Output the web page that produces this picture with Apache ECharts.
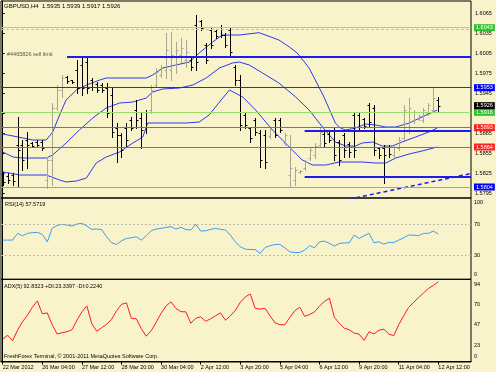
<!DOCTYPE html>
<html><head><meta charset="utf-8">
<script src="https://cdn.jsdelivr.net/npm/echarts@6/dist/echarts.min.js"></script>
<style>html,body{margin:0;padding:0;background:#f9f3cc;}#c{width:496px;height:372px;}</style>
</head><body><div id="c"></div>
<script>
// ---------- data ----------
const symbolName = 'GBPUSD,H4';
const xTickBars = [0, 8, 16, 24, 32, 40, 48, 56, 64, 72, 80, 88];
const xTickLabels = ['22 Mar 2012', '26 Mar 04:00', '27 Mar 12:00', '28 Mar 20:00', '30 Mar 04:00', '2 Apr 12:00', '3 Apr 20:00', '5 Apr 04:00', '6 Apr 12:00', '9 Apr 20:00', '11 Apr 04:00', '12 Apr 12:00'];
const priceTicks = [1.5795, 1.5825, 1.5855, 1.5885, 1.5915, 1.5945, 1.5975, 1.6005, 1.6035, 1.6065];
const rsiTicks = [0, 30, 70, 100];
const rsiLevels = [30, 70];
const adxTicks = [0, 23, 47, 70, 94];

const open = [1.58235,1.58205,1.58220,1.58670,1.58670,1.58745,1.58700,1.58715,1.58715,1.58145,
1.58445,1.59225,1.59495,1.59690,1.59645,1.59795,1.59870,1.59915,1.59645,1.59585,
1.59570,1.59525,1.59420,1.58925,1.58820,1.58925,1.59045,1.59195,1.59075,1.59165,
1.59195,1.59570,1.59720,1.59795,1.59795,1.59870,1.60020,1.59945,1.59945,1.60470,
1.60530,1.60170,1.60395,1.60380,1.60440,1.60320,1.60395,1.59840,1.59645,1.59120,
1.58925,1.59045,1.58850,1.58820,1.58805,1.59045,1.59045,1.58700,1.58220,1.58145,
1.58265,1.58325,1.58475,1.58520,1.58670,1.58835,1.58835,1.58880,1.58715,1.58820,
1.58685,1.59120,1.59120,1.59060,1.59270,1.59225,1.58625,1.58625,1.58640,1.58520,
1.58625,1.58775,1.58895,1.59030,1.59060,1.59045,1.59150,1.59195,1.59350];
const high = [1.58265,1.58250,1.58250,1.59090,1.58745,1.58865,1.58715,1.58745,1.58745,1.58490,
1.59300,1.59570,1.59720,1.59705,1.59645,1.59945,1.59990,1.59990,1.59675,1.59615,
1.59600,1.59600,1.59525,1.59000,1.58850,1.59000,1.59090,1.59345,1.59150,1.59195,
1.59570,1.59825,1.59870,1.60350,1.60365,1.60215,1.60275,1.60245,1.59990,1.60620,
1.60545,1.60200,1.60425,1.60395,1.60470,1.60350,1.60425,1.59870,1.59720,1.59150,
1.58940,1.59075,1.58895,1.58895,1.58940,1.59075,1.59075,1.58850,1.58820,1.58340,
1.58295,1.58445,1.58625,1.58700,1.58925,1.58865,1.58865,1.58925,1.58745,1.58850,
1.58715,1.59150,1.59150,1.59075,1.59300,1.59270,1.58640,1.58670,1.58670,1.58670,
1.58790,1.59270,1.59375,1.59195,1.59120,1.59225,1.59300,1.59540,1.59390];
const low = [1.58070,1.58100,1.58070,1.58040,1.58295,1.58325,1.58640,1.58640,1.58595,1.58025,
1.58070,1.59195,1.59390,1.59600,1.59600,1.59450,1.59420,1.59450,1.59495,1.59465,
1.59465,1.59090,1.58790,1.58415,1.58490,1.58640,1.58895,1.58925,1.58625,1.58850,
1.59150,1.59540,1.59690,1.59675,1.59645,1.59750,1.59915,1.59840,1.59795,1.59795,
1.60395,1.59900,1.60125,1.60275,1.60290,1.60140,1.60020,1.59570,1.58895,1.58925,
1.58715,1.58820,1.58340,1.58325,1.58775,1.58790,1.58865,1.58670,1.58040,1.58070,
1.58250,1.58295,1.58445,1.58475,1.58640,1.58640,1.58715,1.58445,1.58370,1.58490,
1.58490,1.58490,1.58895,1.58925,1.58940,1.58520,1.58475,1.58100,1.58490,1.58490,
1.58595,1.58745,1.58850,1.59000,1.59045,1.59015,1.59120,1.59165,1.59170];
const close = [1.58115,1.58145,1.58130,1.58595,1.58445,1.58670,1.58655,1.58670,1.58625,1.58445,
1.59225,1.59495,1.59675,1.59630,1.59615,1.59525,1.59525,1.59525,1.59540,1.59495,
1.59495,1.59150,1.58865,1.58820,1.58595,1.58745,1.58925,1.59045,1.58895,1.58940,
1.59495,1.59765,1.59825,1.60095,1.60020,1.60095,1.60125,1.60065,1.59840,1.59915,
1.60425,1.59945,1.60170,1.60305,1.60320,1.60170,1.60065,1.59645,1.58970,1.58970,
1.58775,1.58865,1.58445,1.58415,1.58910,1.58820,1.58895,1.58820,1.58325,1.58295,
1.58280,1.58415,1.58595,1.58655,1.58865,1.58700,1.58745,1.58520,1.58445,1.58595,
1.58565,1.58595,1.58940,1.58955,1.59015,1.58595,1.58520,1.58520,1.58535,1.58640,
1.58745,1.59195,1.59225,1.59165,1.59105,1.59195,1.59270,1.59375,1.59260];

// Bollinger bands, read at [bar index, price]
const bbUpper = [[0,1.58835],[2.1,1.58805],[6.1,1.58745],[8.8,1.58745],[10.1,1.58865],[11.5,1.59120],[12.8,1.59345],[14.9,1.59495],[16.9,1.59570],[19.6,1.59645],[20.9,1.59675],[29,1.59675],[30.3,1.59720],[32.3,1.59825],[35,1.59870],[37.7,1.59915],[39.7,1.60050],[42.4,1.60215],[44.4,1.60320],[47.8,1.60320],[51.8,1.60355],[55.8,1.60245],[57.9,1.60140],[59.5,1.60050],[61.9,1.59825],[64.9,1.59390],[67.2,1.59000],[68.2,1.58925],[69.3,1.58895],[71.3,1.58925],[73.3,1.58985],[75.3,1.58970],[77.4,1.58940],[79.4,1.58940],[82.1,1.59000],[84.7,1.59090],[87.8,1.59195]];
const bbMiddle = [[0,1.58565],[2.1,1.58490],[4.1,1.58475],[8.8,1.58475],[10.1,1.58520],[12.8,1.58700],[15.5,1.58895],[18.2,1.59075],[20.9,1.59225],[23.6,1.59300],[26.3,1.59315],[29,1.59375],[30.3,1.59465],[32.3,1.59510],[35.7,1.59525],[38.4,1.59570],[41.1,1.59675],[43.8,1.59825],[46.4,1.59900],[47.8,1.59915],[49.8,1.59870],[52.5,1.59750],[55.8,1.59600],[59.2,1.59390],[61.9,1.59195],[64.6,1.58940],[67.2,1.58715],[69.3,1.58655],[71.3,1.58655],[72.6,1.58700],[74.7,1.58715],[76.7,1.58655],[78.7,1.58655],[80.7,1.58715],[83.4,1.58790],[86.1,1.58865],[87.8,1.58925]];
const bbLower = [[0,1.58265],[1.4,1.58250],[3.4,1.58220],[8.8,1.58220],[11.5,1.58145],[12.8,1.58115],[14.9,1.58130],[16.9,1.58175],[18.9,1.58400],[20.9,1.58490],[23.6,1.58565],[26.3,1.58700],[28.3,1.58790],[29.3,1.59000],[37,1.59000],[39.7,1.59015],[41.7,1.59120],[43.8,1.59315],[45.8,1.59495],[48.5,1.59390],[51.1,1.59195],[54.5,1.58895],[57.9,1.58640],[60.5,1.58445],[62.6,1.58370],[65.3,1.58370],[67.9,1.58415],[72.6,1.58415],[75.3,1.58400],[77.4,1.58400],[79.4,1.58475],[82.1,1.58535],[84.7,1.58580],[87.8,1.58640]];

const rsi = [49.7,49.7,49.7,58.3,55.3,58.3,59.2,59.6,57.0,47.5,
64.7,68.6,69.9,69.0,67.7,70.3,71.2,67.7,63.4,63.9,
63.0,54.0,46.2,44.1,48.8,51.8,52.7,54.0,49.7,55.3,
61.7,63.9,64.7,66.0,66.9,63.9,66.0,63.4,62.6,69.9,
61.3,61.7,63.4,64.7,63.4,62.6,56.1,47.5,41.1,38.1,
37.6,37.6,32.5,40.2,42.4,44.1,44.1,39.8,34.6,33.8,
33.8,36.8,42.4,39.8,47.5,48.4,45.4,41.9,45.4,46.2,
46.2,56.1,51.8,55.3,58.3,46.2,47.5,44.5,46.7,46.7,
49.7,52.7,56.1,56.1,55.3,58.3,58.3,61.3,57.6];
const adx = [26.0,30.6,24.3,36.4,46.2,53.8,63.2,70.5,55.5,56.6,
42.8,32.0,33.5,34.7,37.0,48.0,57.8,64.7,43.9,35.3,
39.3,43.4,49.1,59.0,66.5,68.2,50.1,49.7,38.1,29.5,
35.8,45.7,56.1,64.7,69.4,61.8,58.0,57.8,44.5,50.3,
52.0,46.8,49.7,53.2,56.6,48.0,53.2,59.5,68.8,75.1,
78.6,61.8,61.0,61.8,53.2,45.1,42.8,42.8,51.4,59.0,
63.2,52.6,54.6,57.8,64.4,69.9,73.6,51.4,44.5,38.8,
37.0,33.1,31.9,24.6,34.7,32.1,36.4,37.7,31.8,30.1,
42.8,53.2,62.9,68.7,74.3,79.8,84.9,88.5,92.8];
const rsiText = 'RSI(14) 57.5719';
const adxText = 'ADX(5) 92.8323 +DI:23.3397 -DI:0.2240';
const copyrightText = 'FreshForex Terminal, \u00A9 2001-2011 MetaQuotes Software Corp.';

// horizontal price levels
const greenLevels = [1.6043, 1.5916];
const redLevels = [1.5893, 1.5864];
const blueLevels = [1.5953];
const purpleLevels = [1.5804];
const greyDashLevels = [1.6040];
const bidPrice = 1.5926;
const sellLimit = { text: '#4465826 sell limit', price: 1.6000, fromBar: 13 };
const supportSegments = [{ price: 1.5889, fromBar: 61 }, { price: 1.5820, fromBar: 61 }];
const trendLine = [[70, 1.57857], [94.6, 1.58242]];

// ---------- layout / style ----------
const FONT = 'Liberation Sans';
const BG = '#f9f3cc';
const X_MIN = -0.34, X_MAX = 94.6;
const UP = '#a9a692', DOWN = '#000000';
const BAND = '#2a3af0';
const FS = 5.5;

const chart = echarts.init(document.getElementById('c'), null, { renderer: 'canvas', width: 496, height: 372 });

const gridBase = { left: 1, width: 470, show: true, borderColor: '#000', borderWidth: 1, backgroundColor: 'transparent', containLabel: false, outerBoundsMode: 'none' };
const grids = [
  Object.assign({ top: 1, height: 197 }, gridBase),
  Object.assign({ top: 198, height: 81.3 }, gridBase),
  Object.assign({ top: 279.3, height: 82.7 }, gridBase)
];

function xAxisFor(g) {
  return {
    type: 'value', gridIndex: g, min: X_MIN, max: X_MAX, show: g === 2,
    axisLine: { show: true, lineStyle: { color: '#000', width: 1 } },
    axisTick: { show: true, customValues: xTickBars, length: 3, lineStyle: { color: '#000' } },
    axisLabel: { show: true, customValues: xTickBars, margin: 2, align: 'left', fontSize: FS, color: '#000', fontFamily: FONT,
      formatter: (v) => xTickLabels[xTickBars.indexOf(Math.round(v))] || '' },
    splitLine: { show: false }
  };
}

function boxLabel(text, bg) {
  return { show: true, position: 'end', distance: 3, formatter: text, color: '#fff', backgroundColor: bg,
    padding: [1, 2, 0, 2], fontSize: FS, fontFamily: FONT };
}
function levelLine(v, color, width, type, box) {
  return { yAxis: v, lineStyle: { color: color, width: width, type: type || 'solid', opacity: 1 },
    label: box ? boxLabel(v.toFixed(4), box) : { show: false } };
}

const markData = [];
greyDashLevels.forEach(v => markData.push(levelLine(v, '#c4c0b0', 1, [3, 2], null)));
purpleLevels.forEach(v => markData.push(levelLine(v, '#9c9ad8', 1, 'solid', '#0000ff')));
blueLevels.forEach(v => markData.push(levelLine(v, '#1f2fe8', 1, 'solid', '#0000ff')));
greenLevels.forEach(v => markData.push(levelLine(v, '#98dc6c', 1, 'solid', '#2fc42f')));
redLevels.forEach(v => markData.push(levelLine(v, '#ff3b3b', 1, 'solid', '#ff2020')));
markData.push({ yAxis: bidPrice, lineStyle: { color: 'rgba(0,0,0,0)', width: 0 }, label: boxLabel(bidPrice.toFixed(4), '#000') });
markData.push([{ coord: [sellLimit.fromBar, sellLimit.price], lineStyle: { color: '#1c1ce6', width: 2, type: 'solid' }, label: { show: false } },
               { coord: [X_MAX, sellLimit.price] }]);
supportSegments.forEach(s => markData.push([{ coord: [s.fromBar, s.price], lineStyle: { color: '#1c1ce6', width: 2, type: 'solid' }, label: { show: false } },
                                            { coord: [X_MAX, s.price] }]));

const ohlcData = open.map((o, i) => [i, o, high[i], low[i], close[i]]);

const titleStyle = (size, color) => ({ fontSize: size, fontWeight: 'normal', color: color || '#000', fontFamily: FONT });
const richBase = { fontSize: FS, fontFamily: FONT, color: '#000' };

const option = {
  backgroundColor: BG,
  animation: false,
  textStyle: { fontFamily: FONT },
  title: [
    { text: `${symbolName}  ${open[88].toFixed(4)} ${high[88].toFixed(4)} ${low[88].toFixed(4)} ${close[88].toFixed(4)}`, left: 4, top: 3, padding: 0, textStyle: titleStyle(6) },
    { text: sellLimit.text, left: 7, top: 51, padding: 0, textStyle: titleStyle(FS, '#55554a') },
    { text: rsiText, left: 5, top: 201.5, padding: 0, textStyle: titleStyle(FS) },
    { text: adxText, left: 4, top: 283, padding: 0, textStyle: titleStyle(FS) },
    { text: copyrightText, left: 4, top: 353, padding: 0, textStyle: titleStyle(FS) }
  ],
  // bottom label of the ADX scale (MetaTrader pins it inside the window)
  graphic: [
    { type: 'text', left: 474, top: 353, z: 100, silent: true,
      style: { text: String(adxTicks[0]), fill: '#000', fontSize: FS, fontFamily: FONT } }
  ],
  grid: grids,
  xAxis: [xAxisFor(0), xAxisFor(1), xAxisFor(2)],
  yAxis: [
    { type: 'value', gridIndex: 0, position: 'right', min: 1.57875, max: 1.6083,
      axisLine: { show: true, lineStyle: { color: '#000' } },
      axisTick: { show: true, customValues: priceTicks, length: 2, lineStyle: { color: '#000' } },
      axisLabel: { customValues: priceTicks, formatter: v => v.toFixed(4), fontSize: FS, margin: 4, color: '#000', fontFamily: FONT },
      splitLine: { show: false } },
    { type: 'value', gridIndex: 1, position: 'right', min: -0.5, max: 103.6,
      axisLine: { show: true, lineStyle: { color: '#000' } }, axisTick: { show: false },
      axisLabel: { customValues: rsiTicks, showMinLabel: true, showMaxLabel: true, margin: 3, verticalAlign: 'middle',
        formatter: (v) => {
          const t = Math.round(v);
          if (t === rsiTicks[0]) return `{lo|${t}}`;
          if (t === rsiTicks[rsiTicks.length - 1]) return `{hi|${t}}`;
          return `{n|${t}}`;
        },
        rich: { n: richBase, lo: Object.assign({ padding: [0, 0, 8, 0] }, richBase), hi: Object.assign({ padding: [4, 0, 0, 0] }, richBase) } },
      splitLine: { show: false } },
    { type: 'value', gridIndex: 2, position: 'right', min: -0.5, max: 95.6,
      axisLine: { show: true, lineStyle: { color: '#000' } }, axisTick: { show: false },
      axisLabel: { customValues: adxTicks.slice(1), showMinLabel: true, showMaxLabel: true, margin: 3, verticalAlign: 'middle',
        formatter: (v) => `{n|${Math.round(v)}}`,
        rich: { n: Object.assign({ padding: [7, 0, 0, 0] }, richBase) } },
      splitLine: { show: false } }
  ],
  series: [
    { type: 'line', name: 'upper', xAxisIndex: 0, yAxisIndex: 0, data: bbUpper, showSymbol: false, symbol: 'none',
      lineStyle: { color: BAND, width: 1 }, z: 3,
      markLine: { silent: true, precision: 5, symbol: ['none', 'none'], animation: false, data: markData } },
    { type: 'line', name: 'middle', xAxisIndex: 0, yAxisIndex: 0, data: bbMiddle, showSymbol: false, symbol: 'none', lineStyle: { color: BAND, width: 1 }, z: 3 },
    { type: 'line', name: 'lower', xAxisIndex: 0, yAxisIndex: 0, data: bbLower, showSymbol: false, symbol: 'none', lineStyle: { color: BAND, width: 1 }, z: 3 },
    { type: 'line', name: 'trend', xAxisIndex: 0, yAxisIndex: 0, data: trendLine, showSymbol: false, symbol: 'none', clip: true,
      lineStyle: { color: '#1c1ce6', width: 1.5, type: [4, 3] }, z: 3 },
    { type: 'custom', name: 'ohlc', xAxisIndex: 0, yAxisIndex: 0, data: ohlcData, encode: { x: 0, y: [1, 2, 3, 4] }, z: 4,
      renderItem: function (params, api) {
        const i = api.value(0);
        const pO = api.coord([i, api.value(1)]);
        const pH = api.coord([i, api.value(2)]);
        const pL = api.coord([i, api.value(3)]);
        const pC = api.coord([i, api.value(4)]);
        const color = api.value(4) > api.value(1) ? UP : DOWN;
        const x = Math.round(pH[0]) + 0.5;
        const yo = Math.round(pO[1]) + 0.5, yc = Math.round(pC[1]) + 0.5;
        const st = { stroke: color, lineWidth: 1 };
        return { type: 'group', children: [
          { type: 'line', shape: { x1: x, y1: Math.round(pH[1]), x2: x, y2: Math.round(pL[1]) + 1 }, style: st },
          { type: 'line', shape: { x1: x - 2, y1: yo, x2: x, y2: yo }, style: st },
          { type: 'line', shape: { x1: x, y1: yc, x2: x + 2, y2: yc }, style: st }
        ] };
      } },
    { type: 'line', name: 'RSI', xAxisIndex: 1, yAxisIndex: 1, data: rsi.map((v, i) => [i, v]), showSymbol: false, symbol: 'none',
      lineStyle: { color: '#3a9ef0', width: 1 },
      markLine: { silent: true, precision: 2, symbol: ['none', 'none'], animation: false, label: { show: false },
        lineStyle: { color: '#bdbab0', width: 1, type: [2, 2] }, data: rsiLevels.map(v => ({ yAxis: v })) } },
    { type: 'line', name: 'ADX', xAxisIndex: 2, yAxisIndex: 2, data: adx.map((v, i) => [i, v]), showSymbol: false, symbol: 'none',
      lineStyle: { color: '#ff1a1a', width: 1 } }
  ]
};
chart.setOption(option);
</script></body></html>
